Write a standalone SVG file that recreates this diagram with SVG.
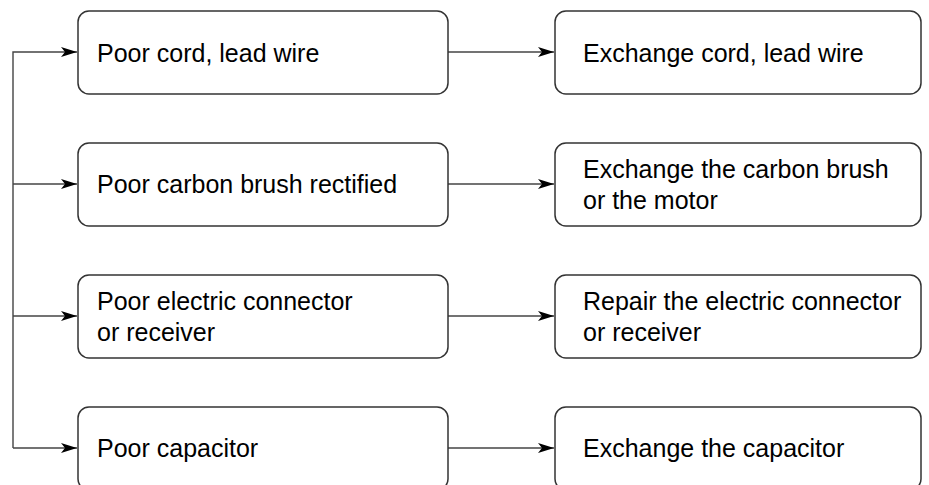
<svg xmlns="http://www.w3.org/2000/svg" width="929" height="485" viewBox="0 0 929 485">
<style>
.box{fill:#fff;stroke:#333;stroke-width:1.5}
.lbl{font-family:"Liberation Sans",Arial,sans-serif;font-size:25px;fill:#000}
.ln{fill:none;stroke:#444;stroke-width:1.4}
</style>
<defs>
<marker id="ah" viewBox="0 0 16 12" refX="16" refY="6" markerWidth="16" markerHeight="12" markerUnits="userSpaceOnUse" orient="auto">
<path d="M0,1 L16,6 L0,11 L4,6 Z" fill="#000"/>
</marker>
</defs>
<rect width="929" height="485" fill="#fff"/>
<g id="connectors">
<path class="ln" d="M13,448 V52 H77" marker-end="url(#ah)"/>
<path class="ln" d="M13,184 H77" marker-end="url(#ah)"/>
<path class="ln" d="M13,316 H77" marker-end="url(#ah)"/>
<path class="ln" d="M13,448 H77" marker-end="url(#ah)"/>
<path class="ln" d="M448,52 H554" marker-end="url(#ah)"/>
<path class="ln" d="M448,184 H554" marker-end="url(#ah)"/>
<path class="ln" d="M448,316 H554" marker-end="url(#ah)"/>
<path class="ln" d="M448,448 H554" marker-end="url(#ah)"/>
</g>
<g id="n1"><rect class="box" x="78" y="11" width="370" height="83" rx="11"/><text class="lbl" x="97" y="62">Poor cord, lead wire</text></g>
<g id="n2"><rect class="box" x="78" y="143" width="370" height="83" rx="11"/><text class="lbl" x="97" y="193">Poor carbon brush rectified</text></g>
<g id="n3"><rect class="box" x="78" y="275" width="370" height="83" rx="11"/><text class="lbl" x="97" y="310">Poor electric connector</text><text class="lbl" x="97" y="341">or receiver</text></g>
<g id="n4"><rect class="box" x="78" y="407" width="370" height="83" rx="11"/><text class="lbl" x="97" y="457">Poor capacitor</text></g>
<g id="n5"><rect class="box" x="555" y="11" width="366" height="83" rx="11"/><text class="lbl" x="583" y="62">Exchange cord, lead wire</text></g>
<g id="n6"><rect class="box" x="555" y="143" width="366" height="83" rx="11"/><text class="lbl" x="583" y="178">Exchange the carbon brush</text><text class="lbl" x="583" y="209">or the motor</text></g>
<g id="n7"><rect class="box" x="555" y="275" width="366" height="83" rx="11"/><text class="lbl" x="583" y="310">Repair the electric connector</text><text class="lbl" x="583" y="341">or receiver</text></g>
<g id="n8"><rect class="box" x="555" y="407" width="366" height="83" rx="11"/><text class="lbl" x="583" y="457">Exchange the capacitor</text></g>
</svg>
